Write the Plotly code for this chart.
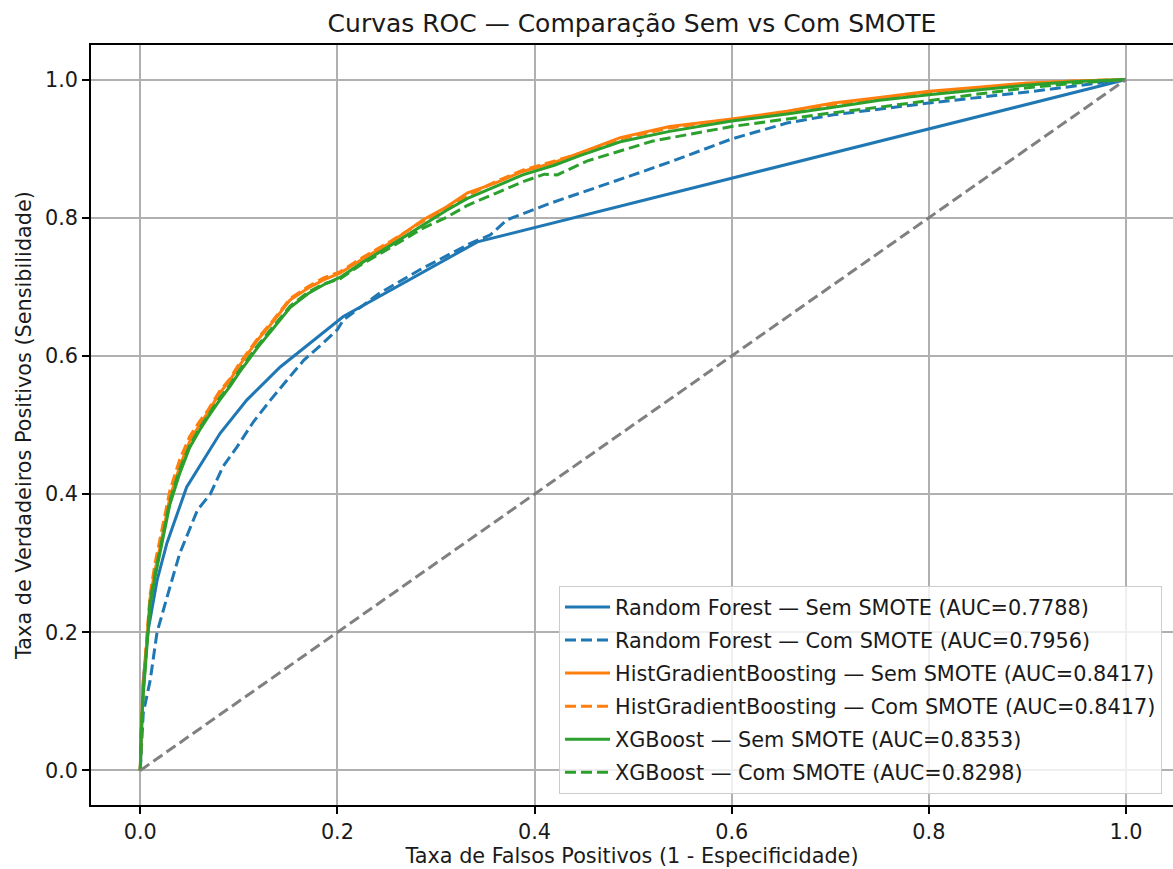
import plotly.graph_objects as go

# ---- data ----
rf_sem_fpr = [0.0, 0.003, 0.008, 0.017, 0.027, 0.047, 0.081, 0.108, 0.142, 0.176, 0.206, 0.342, 1.0]
rf_sem_tpr = [0.0, 0.13, 0.203, 0.275, 0.329, 0.410, 0.488, 0.536, 0.584, 0.623, 0.657, 0.765, 1.0]

rf_com_fpr = [0.0, 0.003, 0.010, 0.017, 0.030, 0.040, 0.058, 0.071, 0.084, 0.098, 0.115, 0.132,
              0.150, 0.166, 0.185, 0.200, 0.206, 0.243, 0.284, 0.310, 0.335, 0.355, 0.372, 0.416,
              0.456, 0.500, 0.540, 0.600, 0.656, 0.703, 0.800, 0.900, 1.0]
rf_com_tpr = [0.0, 0.083, 0.130, 0.200, 0.265, 0.314, 0.377, 0.400, 0.440, 0.468, 0.505, 0.536,
              0.567, 0.594, 0.618, 0.638, 0.652, 0.691, 0.725, 0.745, 0.763, 0.775, 0.797, 0.821,
              0.840, 0.862, 0.882, 0.914, 0.937, 0.949, 0.966, 0.982, 1.0]

hgb_sem_fpr = [0.0, 0.001, 0.003, 0.005, 0.008, 0.010, 0.015, 0.020, 0.030, 0.040, 0.050, 0.060,
               0.068, 0.080, 0.091, 0.100, 0.119, 0.135, 0.152, 0.170, 0.186, 0.203, 0.225,
               0.254, 0.287, 0.310, 0.332, 0.360, 0.388, 0.420, 0.446, 0.487, 0.537, 0.600,
               0.656, 0.703, 0.750, 0.800, 0.850, 0.900, 0.950, 1.0]
hgb_sem_tpr = [0.0, 0.060, 0.120, 0.158, 0.210, 0.250, 0.290, 0.323, 0.395, 0.440, 0.476, 0.500,
               0.517, 0.545, 0.565, 0.585, 0.623, 0.650, 0.681, 0.698, 0.710, 0.720, 0.740,
               0.764, 0.797, 0.815, 0.836, 0.850, 0.867, 0.880, 0.894, 0.916, 0.932, 0.943,
               0.954, 0.966, 0.974, 0.983, 0.989, 0.995, 0.998, 1.0]

hgb_com_fpr = [0.0, 0.001, 0.003, 0.005, 0.008, 0.010, 0.015, 0.020, 0.030, 0.040, 0.050, 0.060,
               0.068, 0.080, 0.091, 0.100, 0.119, 0.135, 0.152, 0.170, 0.186, 0.203, 0.225,
               0.254, 0.287, 0.310, 0.332, 0.360, 0.388, 0.420, 0.446, 0.487, 0.537, 0.600,
               0.656, 0.703, 0.750, 0.800, 0.850, 0.900, 0.950, 1.0]
hgb_com_tpr = [0.0, 0.065, 0.125, 0.165, 0.215, 0.255, 0.300, 0.335, 0.405, 0.450, 0.483, 0.505,
               0.520, 0.548, 0.567, 0.588, 0.625, 0.652, 0.683, 0.700, 0.713, 0.722, 0.742,
               0.766, 0.795, 0.813, 0.832, 0.852, 0.869, 0.882, 0.893, 0.914, 0.930, 0.942,
               0.953, 0.964, 0.972, 0.981, 0.988, 0.994, 0.998, 1.0]

xgb_sem_fpr = [0.0, 0.001, 0.003, 0.005, 0.008, 0.010, 0.015, 0.020, 0.030, 0.040, 0.050, 0.060,
               0.068, 0.080, 0.091, 0.100, 0.119, 0.135, 0.152, 0.170, 0.186, 0.203, 0.225,
               0.254, 0.287, 0.310, 0.332, 0.360, 0.388, 0.420, 0.446, 0.487, 0.537, 0.600,
               0.656, 0.703, 0.750, 0.800, 0.850, 0.900, 0.950, 1.0]
xgb_sem_tpr = [0.0, 0.055, 0.110, 0.150, 0.200, 0.240, 0.280, 0.315, 0.385, 0.430, 0.467, 0.492,
               0.510, 0.535, 0.556, 0.575, 0.612, 0.640, 0.670, 0.690, 0.703, 0.714, 0.735,
               0.760, 0.790, 0.810, 0.828, 0.845, 0.862, 0.876, 0.890, 0.910, 0.925, 0.940,
               0.950, 0.960, 0.970, 0.978, 0.985, 0.992, 0.997, 1.0]

xgb_com_fpr = [0.0, 0.001, 0.003, 0.005, 0.008, 0.010, 0.015, 0.020, 0.030, 0.040, 0.050, 0.060,
               0.068, 0.080, 0.091, 0.100, 0.119, 0.135, 0.152, 0.170, 0.186, 0.203, 0.225,
               0.254, 0.287, 0.310, 0.332, 0.360, 0.388, 0.410, 0.423, 0.453, 0.487, 0.520,
               0.600, 0.656, 0.703, 0.750, 0.800, 0.850, 0.900, 0.950, 1.0]
xgb_com_tpr = [0.0, 0.058, 0.115, 0.155, 0.205, 0.245, 0.285, 0.320, 0.390, 0.436, 0.470, 0.495,
               0.512, 0.538, 0.558, 0.578, 0.615, 0.643, 0.672, 0.692, 0.704, 0.712, 0.733,
               0.757, 0.785, 0.800, 0.818, 0.835, 0.852, 0.863, 0.862, 0.882, 0.897, 0.911,
               0.932, 0.943, 0.952, 0.960, 0.970, 0.979, 0.988, 0.995, 1.0]

diag = [0.0, 1.0]

series_names = [
    "Random Forest — Sem SMOTE (AUC=0.7788)",
    "Random Forest — Com SMOTE (AUC=0.7956)",
    "HistGradientBoosting — Sem SMOTE (AUC=0.8417)",
    "HistGradientBoosting — Com SMOTE (AUC=0.8417)",
    "XGBoost — Sem SMOTE (AUC=0.8353)",
    "XGBoost — Com SMOTE (AUC=0.8298)",
]

title_text = "Curvas ROC — Comparação Sem vs Com SMOTE"
x_title = "Taxa de Falsos Positivos (1 - Especificidade)"
y_title = "Taxa de Verdadeiros Positivos (Sensibilidade)"
tick_vals = [0.0, 0.2, 0.4, 0.6, 0.8, 1.0]
tick_text = ["0.0", "0.2", "0.4", "0.6", "0.8", "1.0"]

# ---- styling ----
BLUE, ORANGE, GREEN = "#1f77b4", "#ff7f0e", "#2ca02c"
DASH = "11px,5px"
LW = 3
FONT = "DejaVu Sans"
FS = 20.8

curves = [
    (rf_sem_fpr, rf_sem_tpr, BLUE, "solid"),
    (rf_com_fpr, rf_com_tpr, BLUE, DASH),
    (hgb_sem_fpr, hgb_sem_tpr, ORANGE, "solid"),
    (hgb_com_fpr, hgb_com_tpr, ORANGE, DASH),
    (xgb_sem_fpr, xgb_sem_tpr, GREEN, "solid"),
    (xgb_com_fpr, xgb_com_tpr, GREEN, DASH),
]

fig = go.Figure()
for i, (xs, ys, col, dash) in enumerate(curves):
    fig.add_trace(go.Scatter(
        x=xs, y=ys, mode="lines", name=series_names[i],
        line=dict(color=col, width=LW, dash=dash),
        legendgroup=f"g{i}",
    ))

fig.add_trace(go.Scatter(
    x=diag, y=diag, mode="lines", showlegend=False,
    line=dict(color="#808080", width=LW, dash=DASH),
))

axis_common = dict(
    tickvals=tick_vals, ticktext=tick_text,
    showgrid=True, gridcolor="#b0b0b0", gridwidth=1.6,
    zeroline=False,
    showline=True, linecolor="black", linewidth=1.6,
    ticks="outside", ticklen=7, tickwidth=1.6, tickcolor="black",
    tickfont=dict(family=FONT, size=FS, color="#1a1a1a"),
)

fig.update_layout(
    width=1173, height=869,
    margin=dict(l=91, r=0, t=45, b=64),
    paper_bgcolor="white", plot_bgcolor="white",
    font=dict(family=FONT, size=FS, color="#1a1a1a"),
    title=dict(text=title_text, x=0.5, xref="paper", y=1 - 23 / 869, yref="container",
               yanchor="middle", xanchor="center",
               font=dict(family=FONT, size=25, color="#1a1a1a")),
    xaxis=dict(**axis_common, range=[-0.05, 1.0477], mirror=True,
               title=dict(text=x_title, standoff=6,
                          font=dict(family=FONT, size=FS, color="#1a1a1a"))),
    yaxis=dict(**axis_common, range=[-0.05, 1.05], mirror=False,
               title=dict(text=y_title, standoff=8,
                          font=dict(family=FONT, size=FS, color="#1a1a1a"))),
    legend=dict(
        x=(1162 - 91) / 1082, y=(805 - 794) / 760, xanchor="right", yanchor="bottom",
        bgcolor="rgba(255,255,255,0.8)", bordercolor="#cccccc", borderwidth=1,
        font=dict(family=FONT, size=FS, color="#1a1a1a"),
        tracegroupgap=3, itemwidth=45,
    ),
    showlegend=True,
)

fig.write_html("out.html")
